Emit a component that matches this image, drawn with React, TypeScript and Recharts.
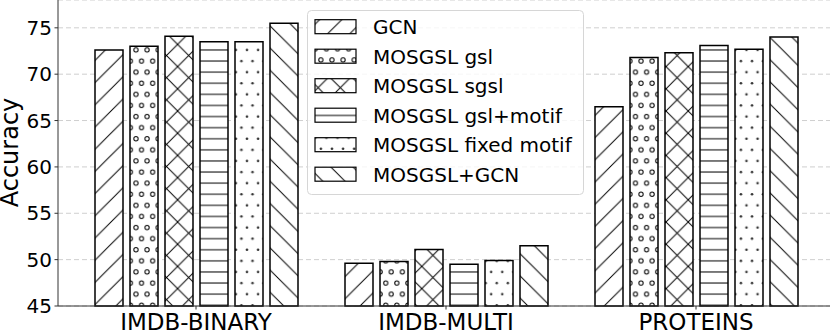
import { BarChart, Bar, XAxis, YAxis, CartesianGrid, Legend } from "recharts";

const FONT = "'DejaVu Sans', sans-serif";

/* ── data ─────────────────────────────────────────────── */
const categories = ["IMDB-BINARY", "IMDB-MULTI", "PROTEINS"];
const gcn = [72.6, 49.6, 66.5];
const gsl = [73.0, 49.8, 71.8];
const sgsl = [74.1, 51.1, 72.3];
const gslMotif = [73.5, 49.5, 73.1];
const fixedMotif = [73.5, 49.9, 72.7];
const mosgslGcn = [75.5, 51.5, 74.0];
const yTicks = [45, 50, 55, 60, 65, 70, 75];

const series = [
  { key: "gcn", name: "GCN", hatch: "slash", values: gcn },
  { key: "gsl", name: "MOSGSL gsl", hatch: "rings", values: gsl },
  { key: "sgsl", name: "MOSGSL sgsl", hatch: "cross", values: sgsl },
  { key: "gslMotif", name: "MOSGSL gsl+motif", hatch: "hline", values: gslMotif },
  { key: "fixedMotif", name: "MOSGSL fixed motif", hatch: "dots", values: fixedMotif },
  { key: "mosgslGcn", name: "MOSGSL+GCN", hatch: "back", values: mosgslGcn },
];

const data = categories.map((name, i) => {
  const row: Record<string, string | number> = { name };
  series.forEach((s) => (row[s.key] = s.values[i]));
  return row;
});

/* ── hatch patterns (matplotlib-like) ─────────────────── */
const P = 11.1; // dense spacing
const D = 22.2; // diagonal spacing

function hatchDefs(prefix: string) {
  const ln = { stroke: "#000", strokeWidth: 1, fill: "none" };
  const slash = `M-2,2 L2,-2 M0,${D} L${D},0 M${D - 2},${D + 2} L${D + 2},${D - 2}`;
  const back = `M-2,${D - 2} L2,${D + 2} M0,0 L${D},${D} M${D - 2},-2 L${D + 2},2`;
  return (
    <defs>
      <pattern id={`${prefix}-slash`} patternUnits="userSpaceOnUse" width={D} height={D}>
        <rect width={D} height={D} fill="#fff" />
        <path d={slash} {...ln} />
      </pattern>
      <pattern id={`${prefix}-back`} patternUnits="userSpaceOnUse" width={D} height={D}>
        <rect width={D} height={D} fill="#fff" />
        <path d={back} {...ln} />
      </pattern>
      <pattern id={`${prefix}-cross`} patternUnits="userSpaceOnUse" width={D} height={D}>
        <rect width={D} height={D} fill="#fff" />
        <path d={slash} {...ln} />
        <path d={back} {...ln} />
      </pattern>
      <pattern id={`${prefix}-hline`} patternUnits="userSpaceOnUse" width={P} height={P}>
        <rect width={P} height={P} fill="#fff" />
        <path d={`M0,${P / 2} L${P},${P / 2}`} {...ln} />
      </pattern>
      <pattern id={`${prefix}-rings`} patternUnits="userSpaceOnUse" width={P} height={D}>
        <rect width={P} height={D} fill="#fff" />
        <circle cx={P / 4} cy={P / 2} r={2.1} {...ln} />
        <circle cx={(3 * P) / 4} cy={P * 1.5} r={2.1} {...ln} />
      </pattern>
      <pattern id={`${prefix}-dots`} patternUnits="userSpaceOnUse" width={P} height={D}>
        <rect width={P} height={D} fill="#fff" />
        <circle cx={P / 4} cy={P / 2} r={1.3} fill="#333" />
        <circle cx={(3 * P) / 4} cy={P * 1.5} r={1.3} fill="#333" />
      </pattern>
    </defs>
  );
}

/* ── legend box ───────────────────────────────────────── */
function HatchLegend() {
  return (
    <svg width={277} height={185} style={{ display: "block", fontFamily: FONT }}>
      {hatchDefs("leg")}
      <rect x={0.5} y={0.5} width={276} height={184} rx={4}
        fill="#fff" fillOpacity={0.8} stroke="#d6d6d6" />
      {series.map((s, i) => {
        const cy = 16.7 + i * 29.5;
        return (
          <g key={s.key}>
            <rect x={8} y={cy - 7} width={41} height={14}
              fill={`url(#leg-${s.hatch})`} stroke="#000" strokeWidth={1.2} />
            <text x={66} y={cy} dy={7.3} fontSize={20} fill="#000">{s.name}</text>
          </g>
        );
      })}
    </svg>
  );
}

function YTitle() {
  return (
    <text x={0} y={0} transform="translate(17.5,152.5) rotate(-90)"
      textAnchor="middle" fontSize={24} fill="#000" fontFamily={FONT}>
      Accuracy
    </text>
  );
}

export default function App() {
  return (
    <div style={{ position: "absolute", left: 0, top: 0, width: 831, height: 336, background: "#fff" }}>
      <BarChart
        width={831}
        height={336}
        data={data}
        margin={{ top: 0, right: 1, bottom: 0, left: 0 }}
        barSize={28}
        barGap={7}
        style={{ fontFamily: FONT }}
      >
        {hatchDefs("bar")}
        <CartesianGrid vertical={false} stroke="#cfcfcf" strokeDasharray="5 3" />
        <XAxis
          dataKey="name"
          height={30}
          padding={{ left: 13, right: 9 }}
          tick={{ fontSize: 23, fill: "#000" }}
          tickSize={3.5}
          tickMargin={4}
          tickLine={{ stroke: "#333" }}
          axisLine={{ stroke: "#333" }}
        />
        <XAxis xAxisId="top" orientation="top" dataKey="name" height={0}
          tick={false} tickLine={false} axisLine={{ stroke: "#333" }} />
        <YAxis
          width={58}
          domain={[45, 78]}
          ticks={yTicks}
          interval={0}
          tick={{ fontSize: 20, fill: "#000" }}
          tickSize={3.5}
          tickMargin={2.5}
          tickLine={{ stroke: "#333" }}
          axisLine={{ stroke: "#333" }}
          label={<YTitle />}
        />
        <YAxis yAxisId="right" orientation="right" width={0} domain={[45, 78]}
          tick={false} tickLine={false} axisLine={{ stroke: "#333" }} />
        <Legend
          layout="vertical"
          align="center"
          verticalAlign="middle"
          content={<HatchLegend />}
          wrapperStyle={{ left: 307, top: 10, width: 277, height: 185 }}
        />
        {series.map((s) => (
          <Bar
            key={s.key}
            dataKey={s.key}
            name={s.name}
            fill={`url(#bar-${s.hatch})`}
            stroke="#000"
            strokeWidth={1.5}
            isAnimationActive={false}
          />
        ))}
      </BarChart>
    </div>
  );
}
